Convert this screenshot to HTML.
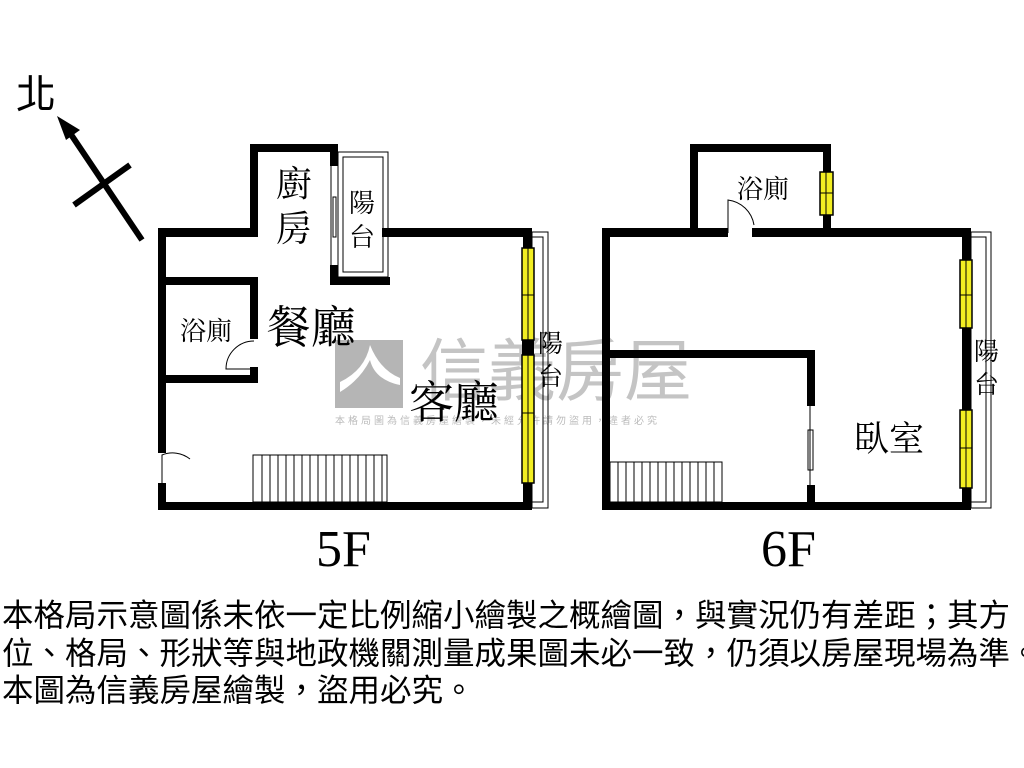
<!DOCTYPE html>
<html><head><meta charset="utf-8"><style>
body{margin:0;background:#fff;width:1024px;height:768px;overflow:hidden;position:relative;font-family:"Liberation Sans","Noto Sans CJK TC",sans-serif}
.t{position:absolute;left:2px;font-size:31.5px;line-height:37px;color:#000;white-space:nowrap}
</style></head><body>
<svg width="1024" height="768" style="position:absolute;left:0;top:0" font-family="Liberation Serif, Noto Serif CJK SC, serif">
<rect x="335" y="340" width="68" height="68" fill="#b5b5b5"/>
<path d="M340 382 Q365 370 370 345 Q380 370 400 378 L400 385 Q375 380 370 360 Q360 380 340 392Z" fill="#fff"/>
<text x="420" y="395" font-size="68" fill="#c4c4c4" font-family="Noto Sans CJK TC, sans-serif">信義房屋</text>
<text x="335" y="424" font-size="10" fill="#bbb" font-family="Noto Sans CJK TC, sans-serif" letter-spacing="3">本格局圖為信義房屋繪製，未經允許請勿盜用，違者必究</text>
<text x="16" y="108" font-size="40" font-family="Noto Sans CJK TC, sans-serif">北</text>
<line x1="142" y1="240" x2="68" y2="130" stroke="#000" stroke-width="6"/>
<polygon points="57,116 80,130 66,140" fill="#000"/>
<line x1="74" y1="205" x2="130" y2="165" stroke="#000" stroke-width="6"/>
<g fill="#000">
<rect x="158" y="228" width="100" height="9"/>
<rect x="250" y="144" width="88" height="8"/>
<rect x="250" y="144" width="8" height="93"/>
<rect x="330" y="144" width="8" height="22"/>
<rect x="330" y="265" width="8" height="20"/>
<rect x="330" y="277" width="60" height="8"/>
<rect x="382" y="228" width="150" height="9"/>
<rect x="523" y="228" width="9" height="282"/>
<rect x="158" y="502" width="374" height="8"/>
<rect x="158" y="228" width="8" height="225"/>
<rect x="158" y="483" width="8" height="27"/>
<rect x="158" y="277" width="100" height="8"/>
<rect x="250" y="277" width="8" height="62"/>
<rect x="250" y="367" width="8" height="16"/>
<rect x="158" y="375" width="100" height="8"/>
<rect x="602" y="228" width="126" height="9"/>
<rect x="752" y="228" width="218" height="9"/>
<rect x="690" y="144" width="141" height="8"/>
<rect x="690" y="144" width="8" height="93"/>
<rect x="823" y="144" width="8" height="93"/>
<rect x="962" y="228" width="9" height="282"/>
<rect x="602" y="228" width="8" height="282"/>
<rect x="602" y="502" width="369" height="8"/>
<rect x="610" y="350" width="205" height="8"/>
<rect x="807" y="350" width="8" height="56"/>
<rect x="807" y="485" width="8" height="20"/>
</g>
<g fill="none" stroke="#000" stroke-width="1">
<rect x="338" y="152" width="50" height="125"/>
<rect x="343" y="157" width="40" height="115"/>
<rect x="333" y="197" width="3" height="40"/>
<line x1="331" y1="166" x2="331" y2="265"/>
<rect x="532" y="232" width="16" height="276"/>
<rect x="532" y="237" width="11" height="265"/>
<rect x="971" y="232" width="20" height="276"/>
<rect x="971" y="237" width="15" height="265"/>
<line x1="810" y1="406" x2="810" y2="485"/>
<rect x="808" y="430" width="5" height="40"/>
<path d="M254 369 L226 369 A28 28 0 0 1 254 341"/>
<path d="M162 483 L162 455 A28 28 0 0 1 190 459"/>
<path d="M728 233 L728 200 A30 30 0 0 1 754 225"/>
<rect x="253" y="455" width="134" height="47"/>
<rect x="610" y="462" width="112" height="40"/>
</g>
<g stroke="#000" stroke-width="1">
<path d="M262 455v47M270 455v47M278 455v47M286 455v47M294 455v47M302 455v47M310 455v47M318 455v47M326 455v47M334 455v47M342 455v47M350 455v47M358 455v47M366 455v47M374 455v47M382 455v47"/>
<path d="M618 462v40M626 462v40M634 462v40M642 462v40M650 462v40M658 462v40M666 462v40M674 462v40M682 462v40M690 462v40M698 462v40M706 462v40M714 462v40"/>
</g>
<g fill="#f2ee22" stroke="#000" stroke-width="1.5">
<rect x="522" y="248" width="12" height="92"/><rect x="522" y="355" width="12" height="128"/>
<rect x="820" y="172" width="13" height="43"/>
<rect x="960" y="260" width="12" height="68"/>
<rect x="960" y="410" width="12" height="78"/>
</g>
<g stroke="#000" stroke-width="1">
<path d="M528 248v92M528 355v128M522 295h12M522 413h12M826 172v43M820 193h13M966 260v68M960 295h12M966 410v78M960 448h12"/>
</g>
<rect x="522" y="340" width="12" height="15" fill="#000"/>
<g font-family="Noto Serif CJK TC, Noto Serif CJK SC, serif" fill="#000">
<text x="276" y="196" font-size="36">廚</text>
<text x="276" y="241" font-size="36">房</text>
<text x="349" y="212" font-size="26">陽</text>
<text x="349" y="246" font-size="26">台</text>
<text x="180" y="340" font-size="26">浴廁</text>
<text x="266" y="343" font-size="45">餐廳</text>
<text x="409" y="418" font-size="45">客廳</text>
<text x="538" y="352" font-size="25">陽</text>
<text x="538" y="385" font-size="25">台</text>
<text x="737" y="198" font-size="26">浴廁</text>
<text x="854" y="451" font-size="35">臥室</text>
<text x="974" y="360" font-size="25">陽</text>
<text x="974" y="393" font-size="25">台</text>
</g>
<text x="316" y="566" font-size="52">5F</text>
<text x="761" y="566" font-size="52">6F</text>
</svg>
<div class="t" style="top:597px">本格局示意圖係未依一定比例縮小繪製之概繪圖，與實況仍有差距；其方</div>
<div class="t" style="top:635px">位、格局、形狀等與地政機關測量成果圖未必一致，仍須以房屋現場為準。</div>
<div class="t" style="top:672px">本圖為信義房屋繪製，盜用必究。</div>
</body></html>
